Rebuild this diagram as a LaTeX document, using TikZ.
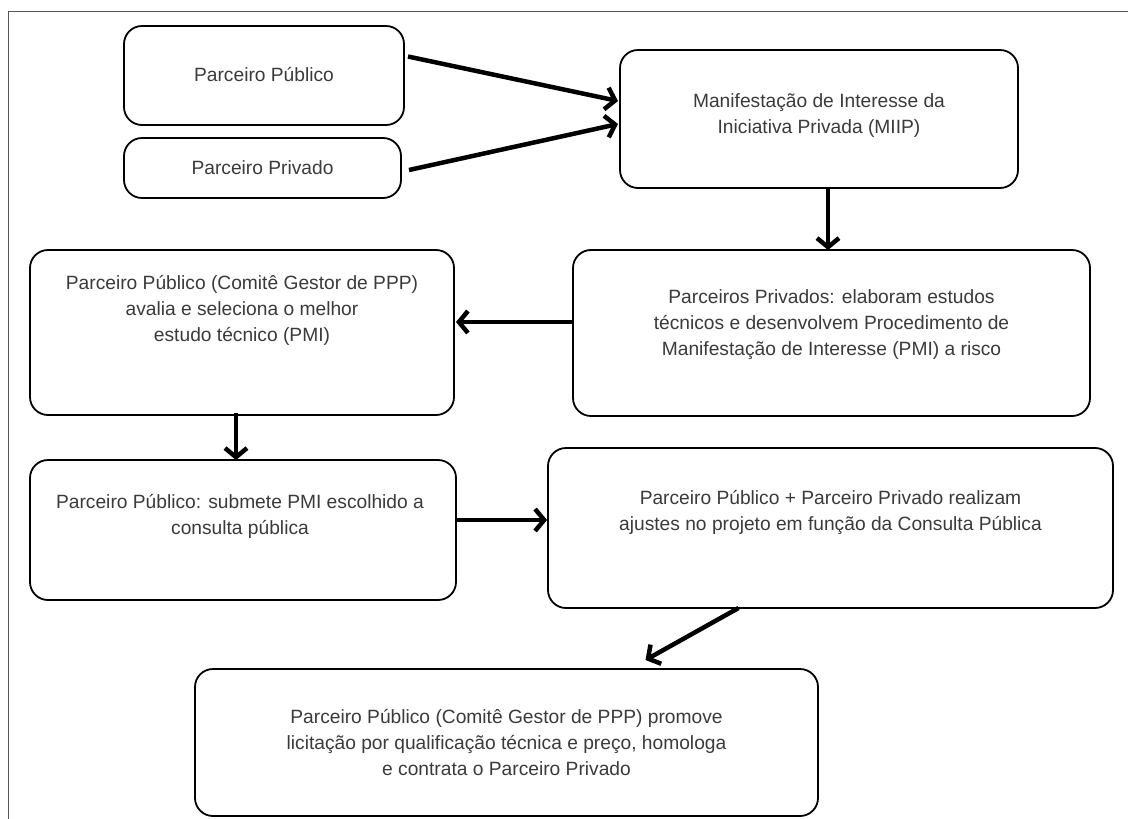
\documentclass[tikz,border=0pt]{standalone}
\usepackage{fontspec}
\setmainfont{Liberation Sans}
\usetikzlibrary{arrows.meta,calc}
\definecolor{txtgray}{HTML}{3A3A3A}
\definecolor{framegray}{HTML}{555555}
\begin{document}
\begin{tikzpicture}[x=1pt,y=-1pt,
 box/.style={draw=black,line width=1.8pt,rounded corners=18pt,inner sep=0pt,outer sep=0pt},
 txt/.style={align=center,text=txtgray,font=\fontsize{19.2}{26}\selectfont,inner sep=0pt},
 arr/.style={line width=4.5pt,-{Straight Barb[length=9pt,width=22pt]}},
 frameline/.style={draw=framegray,line width=1pt}]
\useasboundingbox (0,0) rectangle (1128,819);
\draw[frameline] (8,819) -- (8,11) -- (1128,11);

% boxes
\node[box,minimum width=280pt,minimum height=99pt] (pub) at (264,75.5) {};
\node[box,minimum width=277pt,minimum height=60pt] (priv) at (262.5,168) {};
\node[box,minimum width=398pt,minimum height=138pt] (miip) at (819,119) {};
\node[box,minimum width=517pt,minimum height=166pt] (pp) at (831.5,333) {};
\node[box,minimum width=424pt,minimum height=165pt] (aval) at (242,332.5) {};
\node[box,minimum width=426pt,minimum height=140pt] (subm) at (243,530) {};
\node[box,minimum width=565pt,minimum height=160pt] (ajus) at (830.5,528) {};
\node[box,minimum width=623pt,minimum height=147pt] (prom) at (506.5,742.5) {};

% texts
\node[txt] (pubt) at (264,75) {Parceiro Público};
\node[txt] (privt) at (262.5,168) {Parceiro Privado};
\node[txt] (miipt) at (819,116) {Manifestação de Interesse da\\Iniciativa Privada (MIIP)};
\node[txt] (ppt) at (831.5,325) {Parceiros Privados: elaboram estudos\\técnicos e desenvolvem Procedimento de\\Manifestação de Interesse (PMI) a risco};
\node[txt] (avalt) at (242,310) {Parceiro Público (Comitê Gestor de PPP)\\avalia e seleciona o melhor\\estudo técnico (PMI)};
\node[txt] (submt) at (240,516) {Parceiro Público: submete PMI escolhido a\\consulta pública};
\node[txt] (ajust) at (830.5,512) {Parceiro Público + Parceiro Privado realizam\\ajustes no projeto em função da Consulta Pública};
\node[txt] (promt) at (506.5,743) {Parceiro Público (Comitê Gestor de PPP) promove\\licitação por qualificação técnica e preço, homologa\\e contrata o Parceiro Privado};

% arrows
\draw[arr] ([xshift=4pt,yshift=19pt]pub.east) -- ([xshift=-2pt,yshift=18pt]miip.west);
\draw[arr] ([xshift=8pt,yshift=-2pt]priv.east) -- ([xshift=-2pt,yshift=-5pt]miip.west);
\draw[arr] ([xshift=9pt]miip.south) -- ([xshift=-3.5pt]pp.north);
\draw[arr] ([yshift=11pt]pp.west) -- ([xshift=2pt,yshift=10.5pt]aval.east);
\draw[arr] ([xshift=-6pt,yshift=2pt]aval.south) -- ([xshift=-7pt]subm.north);
\draw[arr] ([xshift=1pt,yshift=10pt]subm.east) -- ([xshift=-1pt,yshift=8pt]ajus.west);
\draw[arr] ([xshift=-92pt]ajus.south) -- ([xshift=139pt,yshift=9pt]prom.north);
\end{tikzpicture}
\end{document}
